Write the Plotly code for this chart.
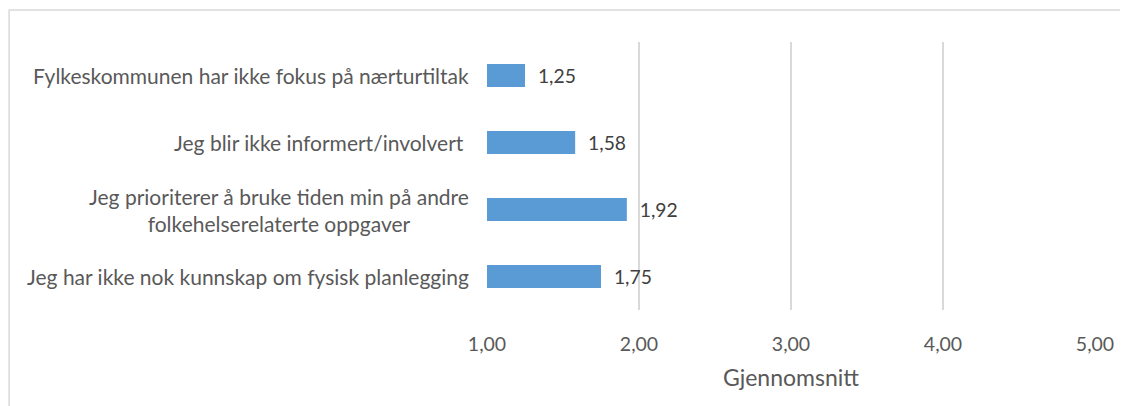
import plotly.graph_objects as go

categories = [
    "Fylkeskommunen har ikke fokus på nærturtiltak",
    "Jeg blir ikke informert/involvert ",
    "Jeg prioriterer å bruke tiden min på andre<br>folkehelserelaterte oppgaver",
    "Jeg har ikke nok kunnskap om fysisk planlegging",
]
values = [1.25, 1.58, 1.92, 1.75]
x_ticks = [1, 2, 3, 4, 5]

font_family = "Lato, Open Sans, sans-serif"
grey_text = "#595959"

fig = go.Figure()
fig.add_trace(go.Bar(
    y=categories, x=values, orientation="h",
    marker=dict(color="#5B9BD5", line=dict(width=0)),
    texttemplate="  %{x:.2f}", textposition="outside",
    textfont=dict(size=19.5, color="#404040", family=font_family),
    cliponaxis=False, hoverinfo="skip",
))

# category labels as annotations so multi-line labels are centred
for cat in categories:
    fig.add_annotation(
        x=0, xref="paper", y=cat, yref="y", text=cat, showarrow=False,
        xanchor="right", xshift=-16, align="center",
        font=dict(size=21, color=grey_text, family=font_family),
    )

# outer chart frame (only top/left visible in the reference)
fig.add_shape(type="rect", xref="paper", yref="paper",
              x0=-0.786, x1=1.3, y0=-0.6, y1=1.119,
              line=dict(color="#D9D9D9", width=1.5), layer="below")

fig.update_layout(
    width=1120, height=398,
    margin=dict(l=479, r=33, t=34, b=96),
    paper_bgcolor="white", plot_bgcolor="white",
    separators=", ",
    bargap=0.66, showlegend=False,
    font=dict(family=font_family, color=grey_text),
)
fig.update_xaxes(
    range=[1, 5], tickvals=x_ticks, tickformat=".2f",
    showgrid=True, gridcolor="#D9D9D9", gridwidth=1.5,
    zeroline=False, showline=False, ticks="",
    tickfont=dict(size=19.5, color=grey_text), ticklabelstandoff=20,
    title=dict(text="Gjennomsnitt", font=dict(size=23, color=grey_text), standoff=16),
)
fig.update_yaxes(
    autorange="reversed", showticklabels=False, showgrid=False,
    zeroline=False, showline=False, ticks="",
)

fig.write_html("out.html")
